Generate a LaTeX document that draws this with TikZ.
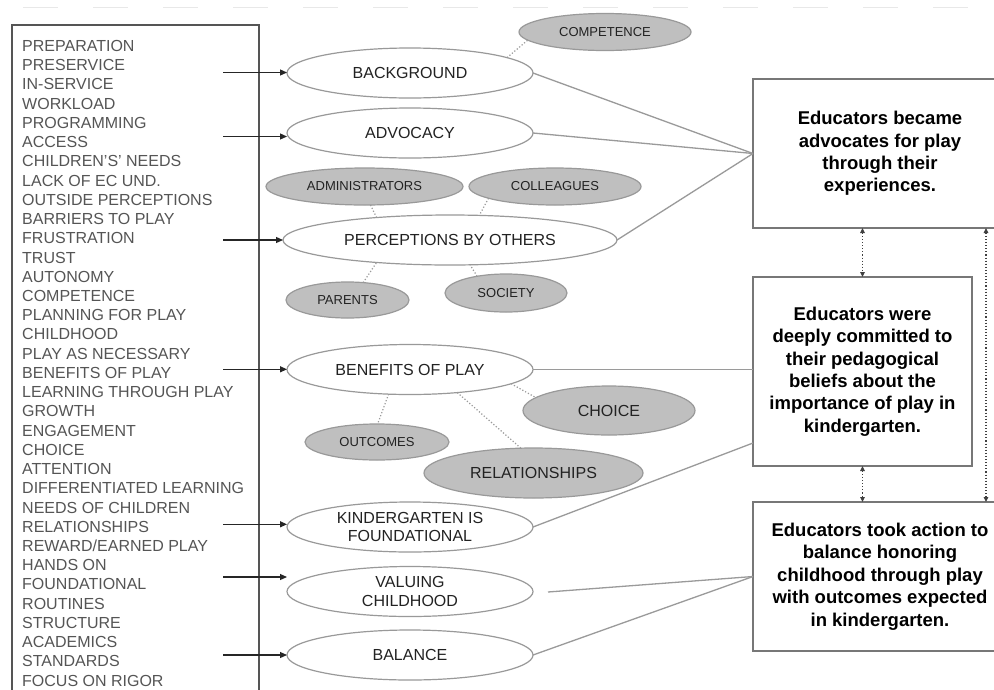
\documentclass[tikz,border=0pt]{standalone}
\usepackage{fontspec}
\setmainfont{Liberation Sans}
\usetikzlibrary{shapes.geometric,arrows.meta}
\definecolor{listgray}{HTML}{555555}
\definecolor{txtdark}{HTML}{222222}
\definecolor{ellgray}{HTML}{999999}
\definecolor{fillgray}{HTML}{BFBFBF}
\definecolor{boxgray}{HTML}{777777}
\definecolor{linegray}{HTML}{9A9A9A}
\definecolor{faint}{HTML}{E8E8E8}
\tikzset{
  wellipse/.style={ellipse, draw=ellgray, line width=1.2pt, fill=white, minimum width=246pt, minimum height=50pt, inner sep=0pt, outer sep=0pt, font=\fontsize{16}{18.3}\selectfont, text=txtdark, align=center},
  gellipse/.style={ellipse, draw=ellgray, line width=1.2pt, fill=fillgray, inner sep=0pt, outer sep=0pt, font=\fontsize{13}{15}\selectfont, text=txtdark},
  bigbox/.style={draw=boxgray, line width=1.5pt, fill=white, inner sep=0pt, outer sep=0pt, align=center, font=\fontsize{18.5}{22.4}\selectfont\bfseries, text=black},
  listbox/.style={draw=listgray, line width=1.3pt, inner sep=0pt, outer sep=0pt, anchor=north west, minimum width=247pt, minimum height=680pt},
  listtxt/.style={anchor=base west, inner sep=0pt, font=\fontsize{16}{19}\selectfont, text=listgray},
  conn/.style={draw=linegray, line width=1.3pt},
  dotl/.style={draw=linegray, line width=1.2pt, dotted},
  arr/.style={draw=black!85, line width=1.2pt, -{Triangle[length=7pt,width=6pt]}},
  dotarr/.style={draw=black!75, line width=1.1pt, dotted, {Triangle[length=5pt,width=4.5pt]}-{Triangle[length=5pt,width=4.5pt]}},
  topdash/.style={draw=faint, line width=1.5pt, dash pattern=on 35pt off 35pt}
}
\begin{document}
\begin{tikzpicture}[x=1pt,y=-1pt]
\useasboundingbox (0,0) rectangle (994,689);
\clip (0,0) rectangle (994,689);
\fill[white] (0,0) rectangle (994,689);
\draw[topdash] (23,7.5) -- (994,7.5);

% left list
\node[listbox] (lst) at (12,25) {};
\foreach \t [count=\i] in {PREPARATION, PRESERVICE, IN-SERVICE, WORKLOAD, PROGRAMMING, ACCESS, {CHILDREN'S' NEEDS}, {LACK OF EC UND.}, OUTSIDE PERCEPTIONS, BARRIERS TO PLAY, FRUSTRATION, TRUST, AUTONOMY, COMPETENCE, PLANNING FOR PLAY, CHILDHOOD, PLAY AS NECESSARY, BENEFITS OF PLAY, LEARNING THROUGH PLAY, GROWTH, ENGAGEMENT, CHOICE, ATTENTION, DIFFERENTIATED LEARNING, NEEDS OF CHILDREN, RELATIONSHIPS, {REWARD/EARNED PLAY}, HANDS ON, FOUNDATIONAL, ROUTINES, STRUCTURE, ACADEMICS, STANDARDS, FOCUS ON RIGOR}
  \node[listtxt] (l\i) at (22,{51.5+19.23*(\i-1)}) {\t};

% white ellipses
\node[wellipse] (bg) at (410,73) {BACKGROUND};
\node[wellipse] (adv) at (410,133) {ADVOCACY};
\node[wellipse, minimum width=334pt] (perc) at (450,240) {PERCEPTIONS BY OTHERS};
\node[wellipse] (ben) at (410,369.5) {BENEFITS OF PLAY};
\node[wellipse] (kf) at (410,527) {KINDERGARTEN IS\\FOUNDATIONAL};
\node[wellipse] (val) at (410,591.5) {VALUING\\CHILDHOOD};
\node[wellipse] (bal) at (410,655) {BALANCE};

% gray ellipses
\node[gellipse, minimum width=172pt, minimum height=37pt] (comp) at (605,32) {COMPETENCE};
\node[gellipse, minimum width=197pt, minimum height=37pt] (adm) at (364.5,186.5) {ADMINISTRATORS};
\node[gellipse, minimum width=172pt, minimum height=37pt] (col) at (555,186.5) {COLLEAGUES};
\node[gellipse, minimum width=123pt, minimum height=36pt] (par) at (347.5,300) {PARENTS};
\node[gellipse, minimum width=122pt, minimum height=38pt] (soc) at (506,293) {SOCIETY};
\node[gellipse, minimum width=172pt, minimum height=49pt, font=\fontsize{16}{18}\selectfont] (cho) at (609,410.5) {CHOICE};
\node[gellipse, minimum width=144pt, minimum height=36pt] (out) at (377,442) {OUTCOMES};
\node[gellipse, minimum width=219pt, minimum height=50pt, font=\fontsize{16}{18}\selectfont] (rel) at (533.5,473) {RELATIONSHIPS};

% right boxes
\node[bigbox, minimum width=254pt, minimum height=149pt] (b1) at (880,153.5) {Educators became\\advocates for play\\through their\\experiences.};
\node[bigbox, minimum width=219pt, minimum height=189pt] (b2) at (862.5,371.5) {Educators were\\deeply committed to\\their pedagogical\\beliefs about the\\importance of play in\\kindergarten.};
\node[bigbox, minimum width=254pt, minimum height=149pt] (b3) at (880,576.5) {Educators took action to\\balance honoring\\childhood through play\\with outcomes expected\\in kindergarten.};

% arrows from list
\coordinate (a1) at (223,72.5);
\coordinate (a2) at (223,136.5);
\coordinate (a3) at (223,240);
\coordinate (a4) at (223,369.3);
\coordinate (a5) at (223,524.3);
\coordinate (a6) at (223,577);
\coordinate (a7) at (223,655);
\draw[arr] (a1) -- (bg.west |- a1);
\draw[arr] (a2) -- (adv.west |- a2);
\draw[arr] (a3) -- (perc.west |- a3);
\draw[arr] (a4) -- (ben.west |- a4);
\draw[arr] (a5) -- (kf.west |- a5);
\draw[arr] (a6) -- (val.west |- a6);
\draw[arr] (a7) -- (bal.west |- a7);

% dotted links
\draw[dotl] (bg.9) -- (comp.186);
\draw[dotl] (adm.-72) -- (perc.163);
\draw[dotl] (col.190) -- (perc.40);
\draw[dotl] (par.48) -- (perc.197);
\draw[dotl] (soc.150) -- (perc.-51);
\draw[dotl] (ben.-8) -- (cho.170);
\draw[dotl] (ben.-131) -- (out.88);
\draw[dotl] (ben.-26) -- (rel.117);

% connectors to boxes
\draw[conn] (bg.east) -- (b1.west);
\draw[conn] (adv.east) -- (b1.west);
\draw[conn] (perc.east) -- (b1.west);
\draw[conn] (ben.east) -- (b2.west |- ben.east);
\draw[conn] (kf.east) -- (b2.west |- 0,443);
\coordinate (vs) at (548,592);
\draw[conn] (vs) -- (b3.west);
\draw[conn] (bal.east) -- (b3.west);

% dotted arrows between boxes
\draw[dotarr] (b1.south -| b2.north) -- (b2.north);
\draw[dotarr] (b2.south) -- (b3.north -| b2.south);
\draw[dotarr] (986,0 |- b1.south) -- (986,0 |- b3.north);
\end{tikzpicture}
\end{document}
